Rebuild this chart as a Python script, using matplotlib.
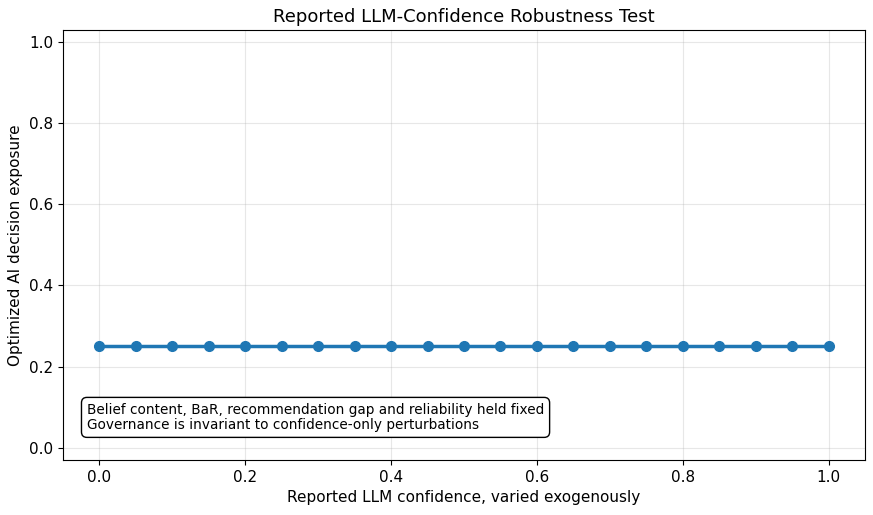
import numpy as np
import matplotlib
matplotlib.use("Agg")
import matplotlib.pyplot as plt

# data
confidence = [0.0, 0.05, 0.1, 0.15, 0.2, 0.25, 0.3, 0.35, 0.4, 0.45, 0.5,
              0.55, 0.6, 0.65, 0.7, 0.75, 0.8, 0.85, 0.9, 0.95, 1.0]
exposure = [0.25] * len(confidence)

note = ("Belief content, BaR, recommendation gap and reliability held fixed\n"
        "Governance is invariant to confidence-only perturbations")

fig, ax = plt.subplots(figsize=(8.73, 5.15), dpi=100)
ax.plot(confidence, exposure, "-o", color="#1f77b4", lw=2.5, ms=7)
ax.set_ylim(-0.03, 1.03)
ax.set_xlabel("Reported LLM confidence, varied exogenously", fontsize=11)
ax.set_ylabel("Optimized AI decision exposure", fontsize=11)
ax.set_title("Reported LLM-Confidence Robustness Test", fontsize=13)
ax.tick_params(labelsize=11)
ax.grid(True, alpha=0.3)
ax.text(0.03, 0.065, note, transform=ax.transAxes, fontsize=9.8,
        va="bottom", ha="left", linespacing=1.1,
        bbox=dict(boxstyle="round,pad=0.4", facecolor="white", edgecolor="black"))

fig.subplots_adjust(left=0.072, right=0.991, top=0.942, bottom=0.107)
fig.savefig("out.png", dpi=100)
